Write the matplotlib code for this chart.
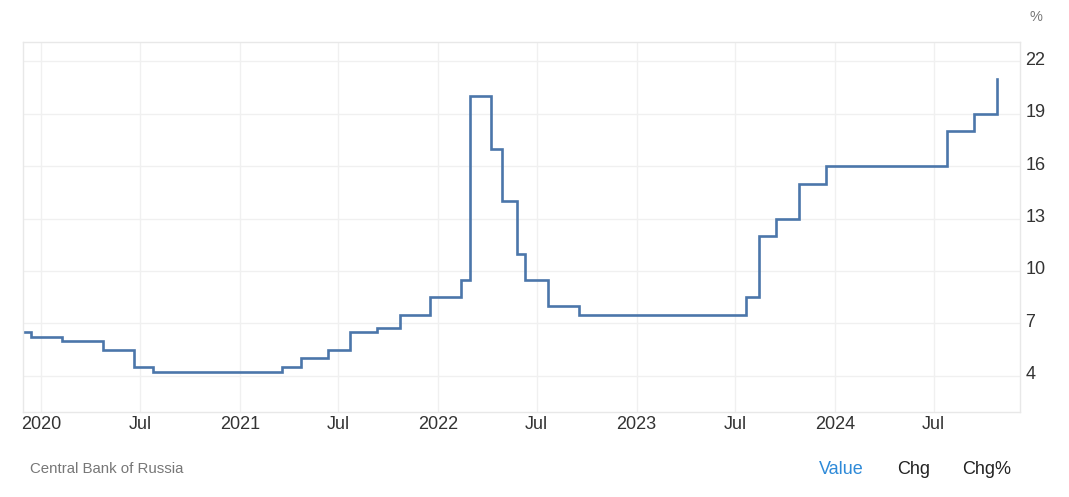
import matplotlib.pyplot as plt
import matplotlib.transforms as mtransforms
import datetime as dt

plt.rcParams['font.family'] = ['Liberation Sans', 'DejaVu Sans']

# key rate decisions (date the new rate starts, rate in %)
dates = ['2019-11-29', '2019-12-13', '2020-02-07', '2020-04-24', '2020-06-19',
         '2020-07-24', '2021-03-19', '2021-04-23', '2021-06-11', '2021-07-23',
         '2021-09-10', '2021-10-22', '2021-12-17', '2022-02-11', '2022-02-28',
         '2022-04-08', '2022-04-29', '2022-05-26', '2022-06-10', '2022-07-22',
         '2022-09-16', '2023-07-21', '2023-08-15', '2023-09-15', '2023-10-27',
         '2023-12-15', '2024-07-26', '2024-09-13', '2024-10-25']
rates = [6.5, 6.25, 6.0, 5.5, 4.5,
         4.25, 4.5, 5.0, 5.5, 6.5,
         6.75, 7.5, 8.5, 9.5, 20.0,
         17.0, 14.0, 11.0, 9.5, 8.0,
         7.5, 8.5, 12.0, 13.0, 15.0,
         16.0, 18.0, 19.0, 21.0]

y_ticks = [4, 7, 10, 13, 16, 19, 22]
x_ticks = ['2020-01-01', '2020-07-01', '2021-01-01', '2021-07-01', '2022-01-01',
           '2022-07-01', '2023-01-01', '2023-07-01', '2024-01-01', '2024-07-01']
x_labels = ['2020', 'Jul', '2021', 'Jul', '2022', 'Jul', '2023', 'Jul', '2024', 'Jul']

W, H = 1069, 497
fig = plt.figure(figsize=(W / 100, H / 100), dpi=100)
ax = fig.add_axes([23 / W, 1 - 412 / H, (1020 - 23) / W, (412 - 42) / H])

x = [dt.datetime.strptime(d, '%Y-%m-%d') for d in dates]
ax.plot(x, rates, drawstyle='steps-post', color='#4b76aa', lw=1.9, solid_joinstyle='miter')

ax.set_xlim(dt.datetime(2019, 11, 28), dt.datetime(2024, 12, 7))
ax.set_ylim(1.94, 23.09)

ax.set_xticks([dt.datetime.strptime(d, '%Y-%m-%d') for d in x_ticks])
ax.set_xticklabels(x_labels)
ax.set_yticks(y_ticks)
ax.yaxis.tick_right()
ax.tick_params(axis='both', length=0, labelsize=13, labelcolor='#333333')
ax.tick_params(axis='x', pad=3)
ax.tick_params(axis='y', pad=4)

# y labels sit a little above their grid lines
shift = mtransforms.ScaledTranslation(0, 3 / 100, fig.dpi_scale_trans)
for lbl in ax.get_yticklabels():
    lbl.set_transform(lbl.get_transform() + shift)

ax.grid(True, color='#f0f0f0', lw=1)
ax.set_axisbelow(True)
for side in ['top', 'left', 'right', 'bottom']:
    ax.spines[side].set_color('#e8e8e8')
    ax.spines[side].set_linewidth(1)

fig.text(1036 / W, 1 - 17 / H, '%', ha='center', va='center', fontsize=10.5, color='#777777')
fig.text(30 / W, 1 - 469 / H, 'Central Bank of Russia', ha='left', va='center',
         fontsize=10.8, color='#777777')
fig.text(819 / W, 1 - 469 / H, 'Value', ha='left', va='center', fontsize=13, color='#2e8ad8')
fig.text(897 / W, 1 - 469 / H, 'Chg', ha='left', va='center', fontsize=13, color='#222222')
fig.text(962 / W, 1 - 469 / H, 'Chg%', ha='left', va='center', fontsize=13, color='#222222')

fig.savefig('out.png', dpi=100, facecolor='white')
